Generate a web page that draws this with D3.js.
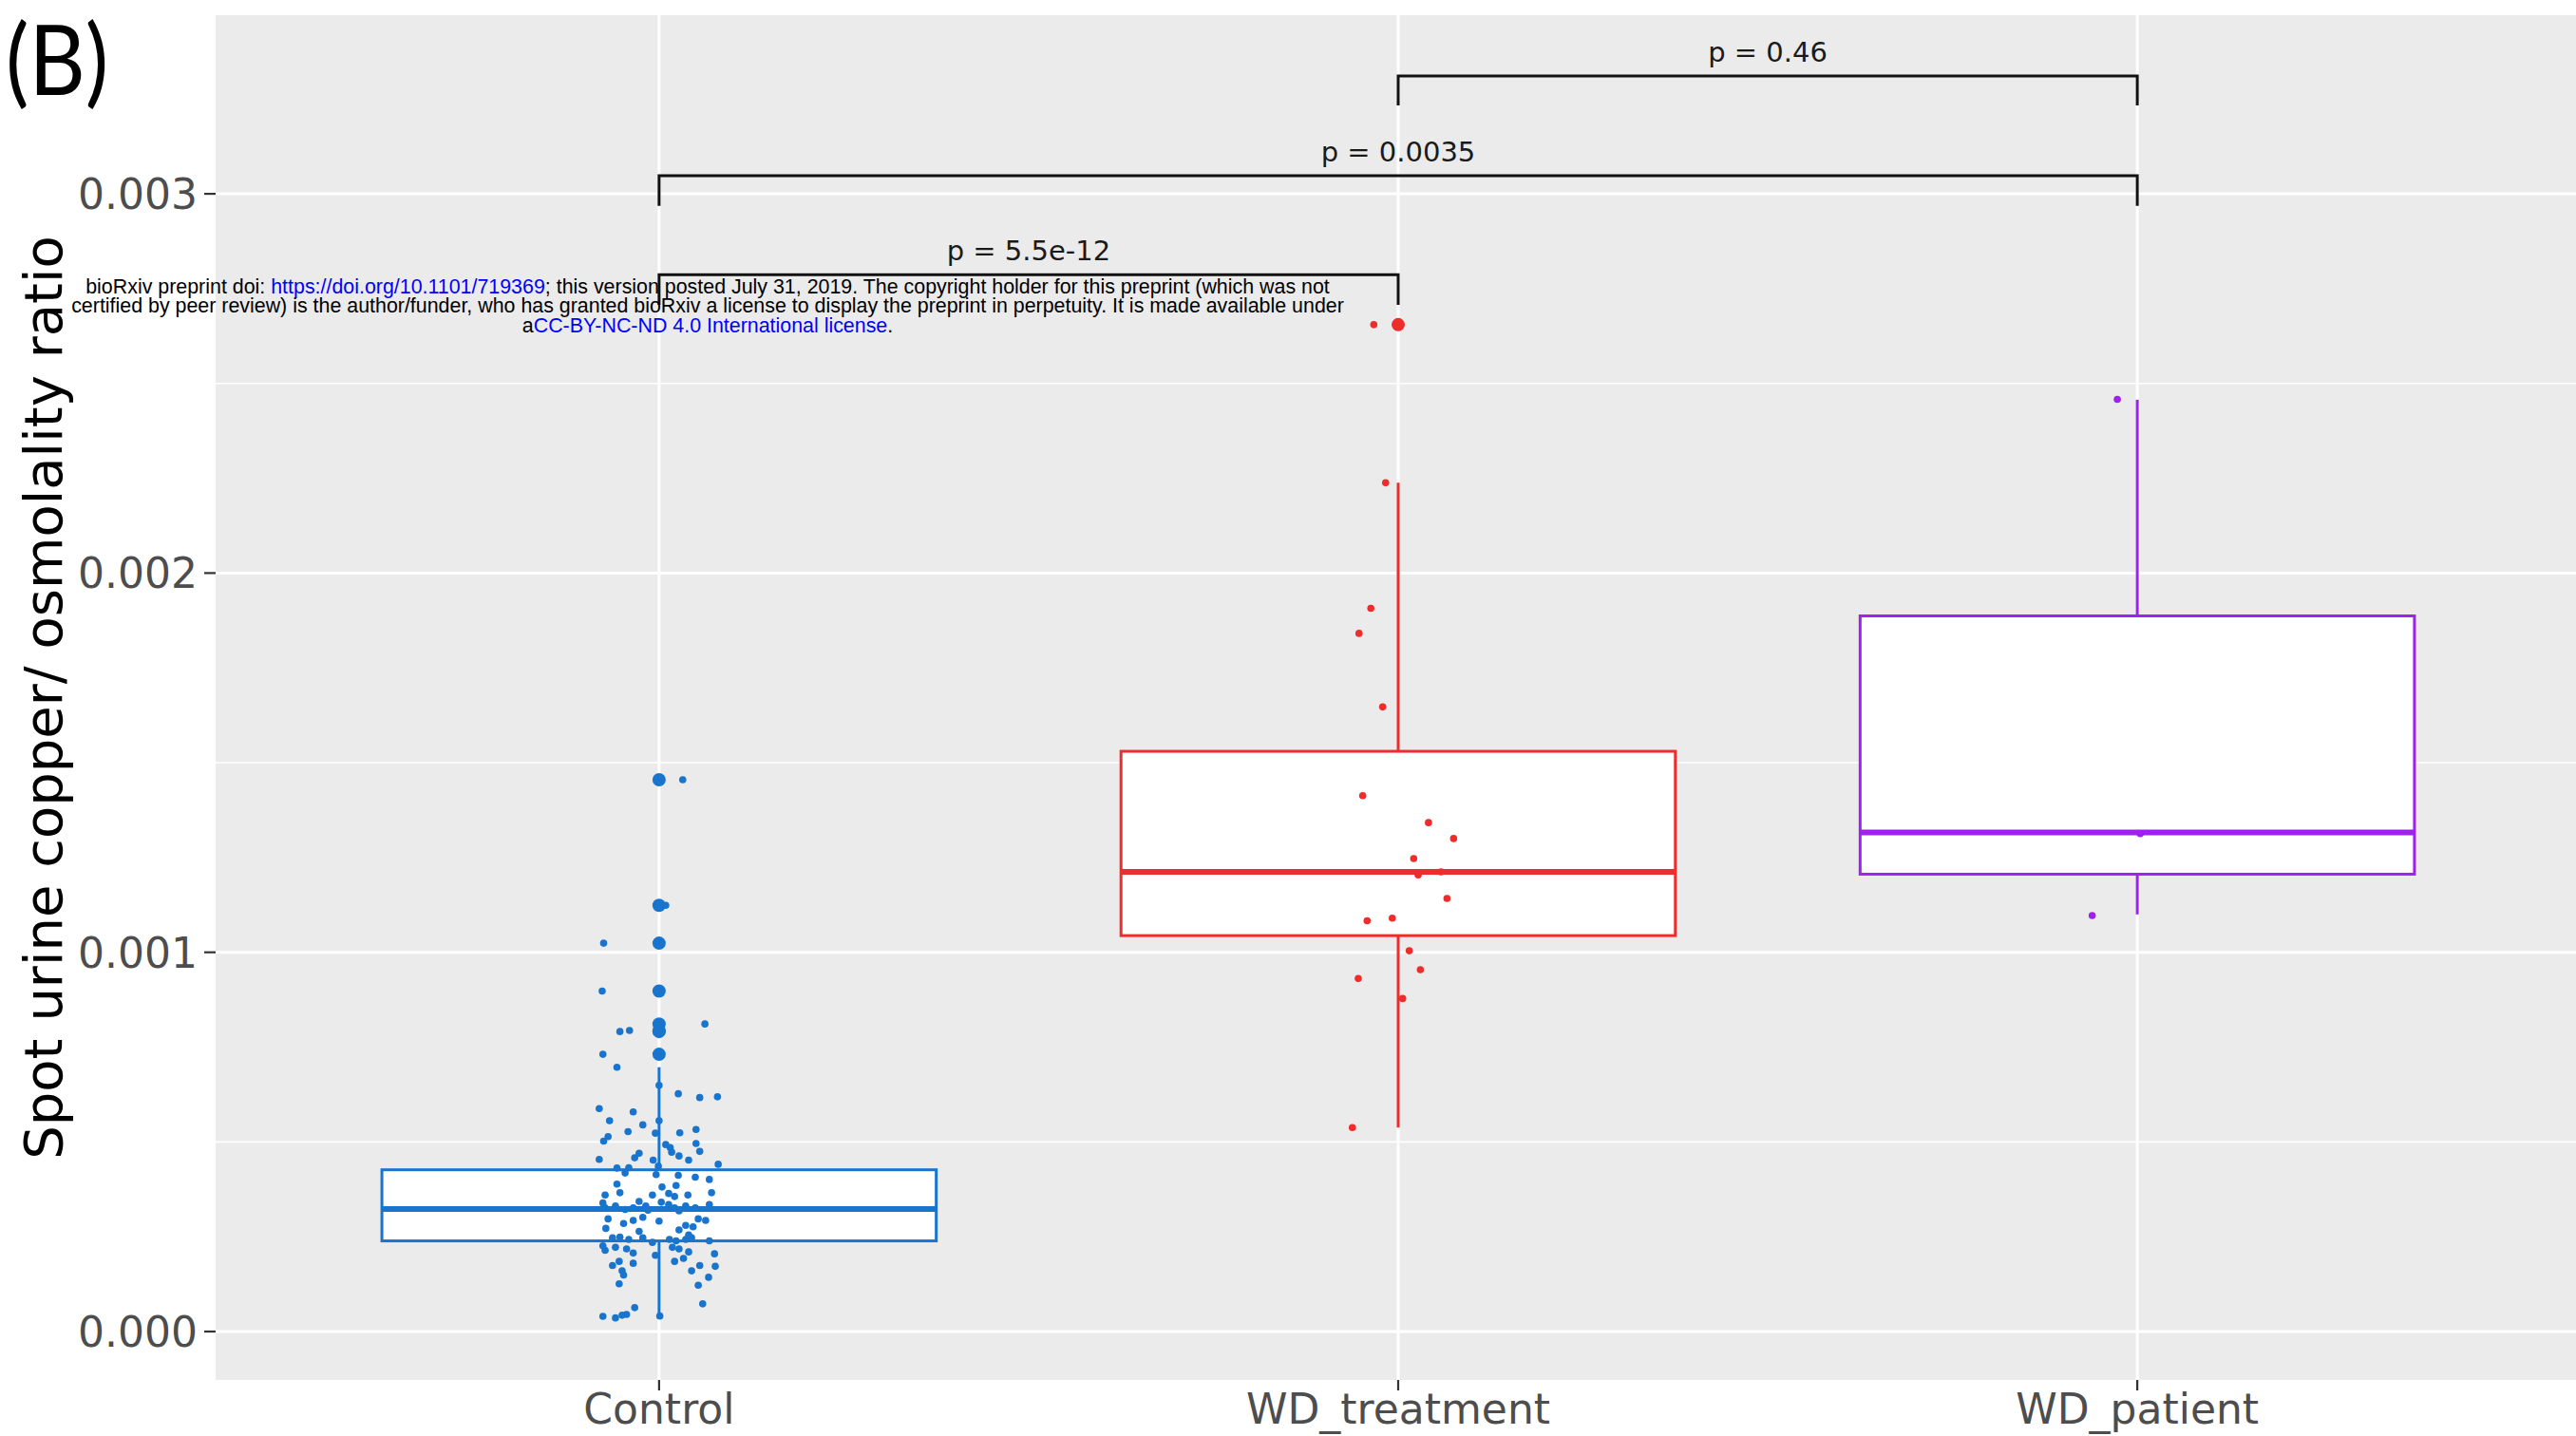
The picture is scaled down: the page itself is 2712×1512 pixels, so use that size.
<!DOCTYPE html>
<html><head><meta charset="utf-8">
<script src="https://cdn.jsdelivr.net/npm/d3@7"></script>
<style>html,body{margin:0;padding:0;background:#fff;} svg{display:block;}</style>
</head><body>
<script>
// ---------- data ----------
const categories = ["Control", "WD_treatment", "WD_patient"];
const colors = ["#1874CD", "#EE2C2C", "#A020F0"];

// boxplot statistics
const q1Values      = [0.000239, 0.001044, 0.001206];
const medianValues  = [0.000323, 0.001212, 0.001316];
const q3Values      = [0.0004265, 0.001530, 0.001887];
const whiskerLow    = [0.0000426, 0.000538, 0.001100];
const whiskerHigh   = [0.000697, 0.002238, 0.002457];
const outlierValues = [
  [0.001455, 0.001124, 0.001024, 0.000898, 0.000811, 0.000794, 0.000791, 0.000731],
  [0.002655],
  []
];

// jittered observations (value, horizontal jitter in category units)
const controlValues = [
  1.455,1.124,1.024,0.898,0.811,0.794,0.791,0.731,0.697,0.649,
  0.627,0.617,0.619,0.588,0.579,0.556,0.556,0.545,0.527,0.533,
  0.524,0.523,0.514,0.502,0.496,0.493,0.485,0.475,0.470,0.473,
  0.463,0.458,0.454,0.452,0.452,0.441,0.436,0.431,0.432,0.418,
  0.414,0.412,0.407,0.401,0.389,0.385,0.381,0.366,0.366,0.360,
  0.360,0.364,0.360,0.356,0.343,0.339,0.341,0.326,0.331,0.322,
  0.326,0.331,0.335,0.326,0.331,0.326,0.335,0.318,0.320,0.297,
  0.285,0.293,0.301,0.291,0.268,0.280,0.276,0.297,0.293,0.272,
  0.264,0.255,0.247,0.249,0.243,0.247,0.235,0.243,0.239,0.243,
  0.247,0.239,0.226,0.214,0.222,0.218,0.207,0.201,0.222,0.218,
  0.210,0.205,0.185,0.193,0.174,0.185,0.180,0.160,0.174,0.172,
  0.160,0.149,0.143,0.126,0.122,0.073,0.063,0.040,0.036,0.043,
  0.045,0.041
].map(v => v / 1000);
const controlJitter = [
  0.032,0.009,-0.075,-0.077,0.062,-0.040,-0.053,-0.076,-0.057,0.000,
  0.026,0.055,0.079,-0.081,-0.035,-0.067,0.000,-0.022,-0.042,0.050,
  0.028,-0.005,-0.069,-0.075,0.050,0.009,0.015,0.055,-0.027,0.017,
  0.027,-0.033,-0.081,-0.008,0.040,0.080,-0.001,-0.057,-0.041,-0.046,
  -0.004,0.026,0.049,0.068,-0.057,0.023,0.004,-0.053,0.071,-0.073,
  -0.009,0.013,0.039,0.021,-0.027,-0.076,0.003,-0.073,-0.059,-0.046,
  -0.035,-0.018,0.013,0.021,0.036,0.049,0.068,0.027,-0.015,-0.069,
  -0.048,-0.035,-0.022,0.000,0.027,0.036,0.046,0.053,0.063,-0.072,
  -0.027,0.040,-0.063,-0.053,-0.041,-0.022,-0.009,0.014,0.023,0.036,
  0.044,0.068,-0.076,-0.073,-0.059,-0.044,-0.035,-0.005,0.018,0.027,
  0.040,0.075,0.021,0.033,-0.063,-0.054,-0.035,0.044,0.055,0.076,
  -0.050,-0.048,0.067,-0.054,0.053,0.059,-0.033,-0.076,-0.059,-0.050,
  -0.044,0.001
];
const treatmentValues = [
  2.655,2.238,1.907,1.841,1.647,1.413,1.342,1.300,1.247,1.204,
  1.212,1.142,1.090,1.083,1.004,0.954,0.931,0.878,0.538
].map(v => v / 1000);
const treatmentJitter = [
  -0.033,-0.017,-0.037,-0.053,-0.021,-0.048,0.041,0.075,0.021,0.027,
  0.058,0.066,-0.008,-0.042,0.015,0.030,-0.054,0.006,-0.062
];
const patientValues = [2.458, 1.313, 1.097].map(v => v / 1000);
const patientJitter = [-0.027, 0.004, -0.061];

const yTicks = [0, 0.001, 0.002, 0.003];
const yMinorTicks = [0.0005, 0.0015, 0.0025];

const comparisons = [["Control", "WD_treatment"], ["Control", "WD_patient"], ["WD_treatment", "WD_patient"]];
const pLabels = ["p = 5.5e-12", "p = 0.0035", "p = 0.46"];
const bracketLevel = [0.002787, 0.003048, 0.003311];
const bracketTip   = [0.002707, 0.002968, 0.003233];

const yTitle = "Spot urine copper/ osmolality ratio";
const panelLabel = "(B)";

// ---------- layout ----------
const W = 2712, H = 1512;
const P = {left: 227, right: 2717, top: 16, bottom: 1453};
const FONT = "'DejaVu Sans', sans-serif";

const svg = d3.select("body").append("svg").attr("width", W).attr("height", H);
svg.append("rect").attr("width", W).attr("height", H).attr("fill", "#fff");

const x = d3.scalePoint().domain(categories).range([P.left, P.right]).padding(0.6);
const step = x.step();
const y = d3.scaleLinear().domain([-0.0001277, 0.003471]).range([P.bottom, P.top]);

svg.append("clipPath").attr("id", "pc").append("rect")
  .attr("x", P.left).attr("y", P.top).attr("width", W - P.left).attr("height", P.bottom - P.top);

const panel = svg.append("g").attr("clip-path", "url(#pc)");
panel.append("rect").attr("x", P.left).attr("y", P.top)
  .attr("width", P.right - P.left).attr("height", P.bottom - P.top).attr("fill", "#EBEBEB");

// grid
panel.selectAll(".gmin").data(yMinorTicks).join("line")
  .attr("x1", P.left).attr("x2", P.right).attr("y1", d => y(d)).attr("y2", d => y(d))
  .attr("stroke", "#fff").attr("stroke-width", 1.6);
panel.selectAll(".gmaj").data(yTicks).join("line")
  .attr("x1", P.left).attr("x2", P.right).attr("y1", d => y(d)).attr("y2", d => y(d))
  .attr("stroke", "#fff").attr("stroke-width", 3);
panel.selectAll(".gx").data(categories).join("line")
  .attr("x1", d => x(d)).attr("x2", d => x(d)).attr("y1", P.top).attr("y2", P.bottom)
  .attr("stroke", "#fff").attr("stroke-width", 3);

// boxplots
const boxW = 0.75 * step;
categories.forEach((c, i) => {
  const cx = x(c), col = colors[i];
  const g = panel.append("g");
  g.append("line").attr("x1", cx).attr("x2", cx).attr("y1", y(q3Values[i])).attr("y2", y(whiskerHigh[i]))
    .attr("stroke", col).attr("stroke-width", 3);
  g.append("line").attr("x1", cx).attr("x2", cx).attr("y1", y(q1Values[i])).attr("y2", y(whiskerLow[i]))
    .attr("stroke", col).attr("stroke-width", 3);
  g.append("rect").attr("x", cx - boxW / 2).attr("width", boxW)
    .attr("y", y(q3Values[i])).attr("height", y(q1Values[i]) - y(q3Values[i]))
    .attr("fill", "#fff").attr("stroke", col).attr("stroke-width", 3);
  g.append("line").attr("x1", cx - boxW / 2).attr("x2", cx + boxW / 2)
    .attr("y1", y(medianValues[i])).attr("y2", y(medianValues[i]))
    .attr("stroke", col).attr("stroke-width", 6);
  g.selectAll("circle").data(outlierValues[i]).join("circle")
    .attr("cx", cx).attr("cy", d => y(d)).attr("r", 7).attr("fill", col);
});

// jittered points
const groups = [
  {c: "Control", v: controlValues, j: controlJitter, col: colors[0]},
  {c: "WD_treatment", v: treatmentValues, j: treatmentJitter, col: colors[1]},
  {c: "WD_patient", v: patientValues, j: patientJitter, col: colors[2]}
];
groups.forEach(gr => {
  panel.append("g").selectAll("circle").data(gr.v).join("circle")
    .attr("cx", (d, k) => x(gr.c) + gr.j[k] * step)
    .attr("cy", d => y(d)).attr("r", 3.8).attr("fill", gr.col);
});

// brackets
comparisons.forEach((cmp, i) => {
  const x1 = x(cmp[0]), x2 = x(cmp[1]);
  const yl = y(bracketLevel[i]), yt = y(bracketTip[i]);
  svg.append("path")
    .attr("d", `M${x1},${yt}L${x1},${yl}L${x2},${yl}L${x2},${yt}`)
    .attr("fill", "none").attr("stroke", "#111").attr("stroke-width", 3);
  svg.append("text").attr("x", (x1 + x2) / 2).attr("y", yl - 15)
    .attr("text-anchor", "middle").attr("font-family", FONT).attr("font-size", 29)
    .attr("fill", "#1a1a1a").text(pLabels[i]);
});

// y axis
const yAxis = svg.append("g");
yTicks.forEach(t => {
  yAxis.append("line").attr("x1", P.left - 12).attr("x2", P.left).attr("y1", y(t)).attr("y2", y(t))
    .attr("stroke", "#333").attr("stroke-width", 2.2);
  yAxis.append("text").attr("x", 208).attr("y", y(t)).attr("dy", "0.36em")
    .attr("text-anchor", "end").attr("font-family", FONT).attr("font-size", 44)
    .attr("fill", "#4D4D4D").text(d3.format(".3f")(t));
});
// x axis
const xAxis = svg.append("g");
categories.forEach(c => {
  xAxis.append("line").attr("x1", x(c)).attr("x2", x(c)).attr("y1", P.bottom).attr("y2", P.bottom + 11)
    .attr("stroke", "#333").attr("stroke-width", 2.2);
  xAxis.append("text").attr("x", x(c)).attr("y", 1499).attr("text-anchor", "middle")
    .attr("font-family", FONT).attr("font-size", 44).attr("fill", "#4D4D4D").text(c);
});

// y title
svg.append("text").attr("transform", `translate(65,${(P.top + P.bottom) / 2}) rotate(-90)`)
  .attr("text-anchor", "middle").attr("font-family", FONT).attr("font-size", 56)
  .attr("fill", "#000").text(yTitle);

// panel label
svg.append("text").attr("transform", "translate(6,100) scale(0.9,1)")
  .attr("font-family", "Lato, 'Open Sans', sans-serif")
  .attr("font-size", 102).attr("fill", "#000").text(panelLabel);

// bioRxiv watermark
const wm = svg.append("g").attr("font-family", "'Liberation Sans', Arial, sans-serif").attr("font-size", 21.4)
  .attr("text-anchor", "middle").attr("fill", "#000");
const l1 = wm.append("text").attr("x", 745).attr("y", 309);
l1.append("tspan").text("bioRxiv preprint doi: ");
l1.append("tspan").attr("fill", "#0000FF").text("https://doi.org/10.1101/719369");
l1.append("tspan").text("; this version posted July 31, 2019. The copyright holder for this preprint (which was not");
wm.append("text").attr("x", 745).attr("y", 329)
  .text("certified by peer review) is the author/funder, who has granted bioRxiv a license to display the preprint in perpetuity. It is made available under");
const l3 = wm.append("text").attr("x", 745).attr("y", 350);
l3.append("tspan").text("a");
l3.append("tspan").attr("fill", "#0000FF").text("CC-BY-NC-ND 4.0 International license");
l3.append("tspan").text(".");
</script>
</body></html>
